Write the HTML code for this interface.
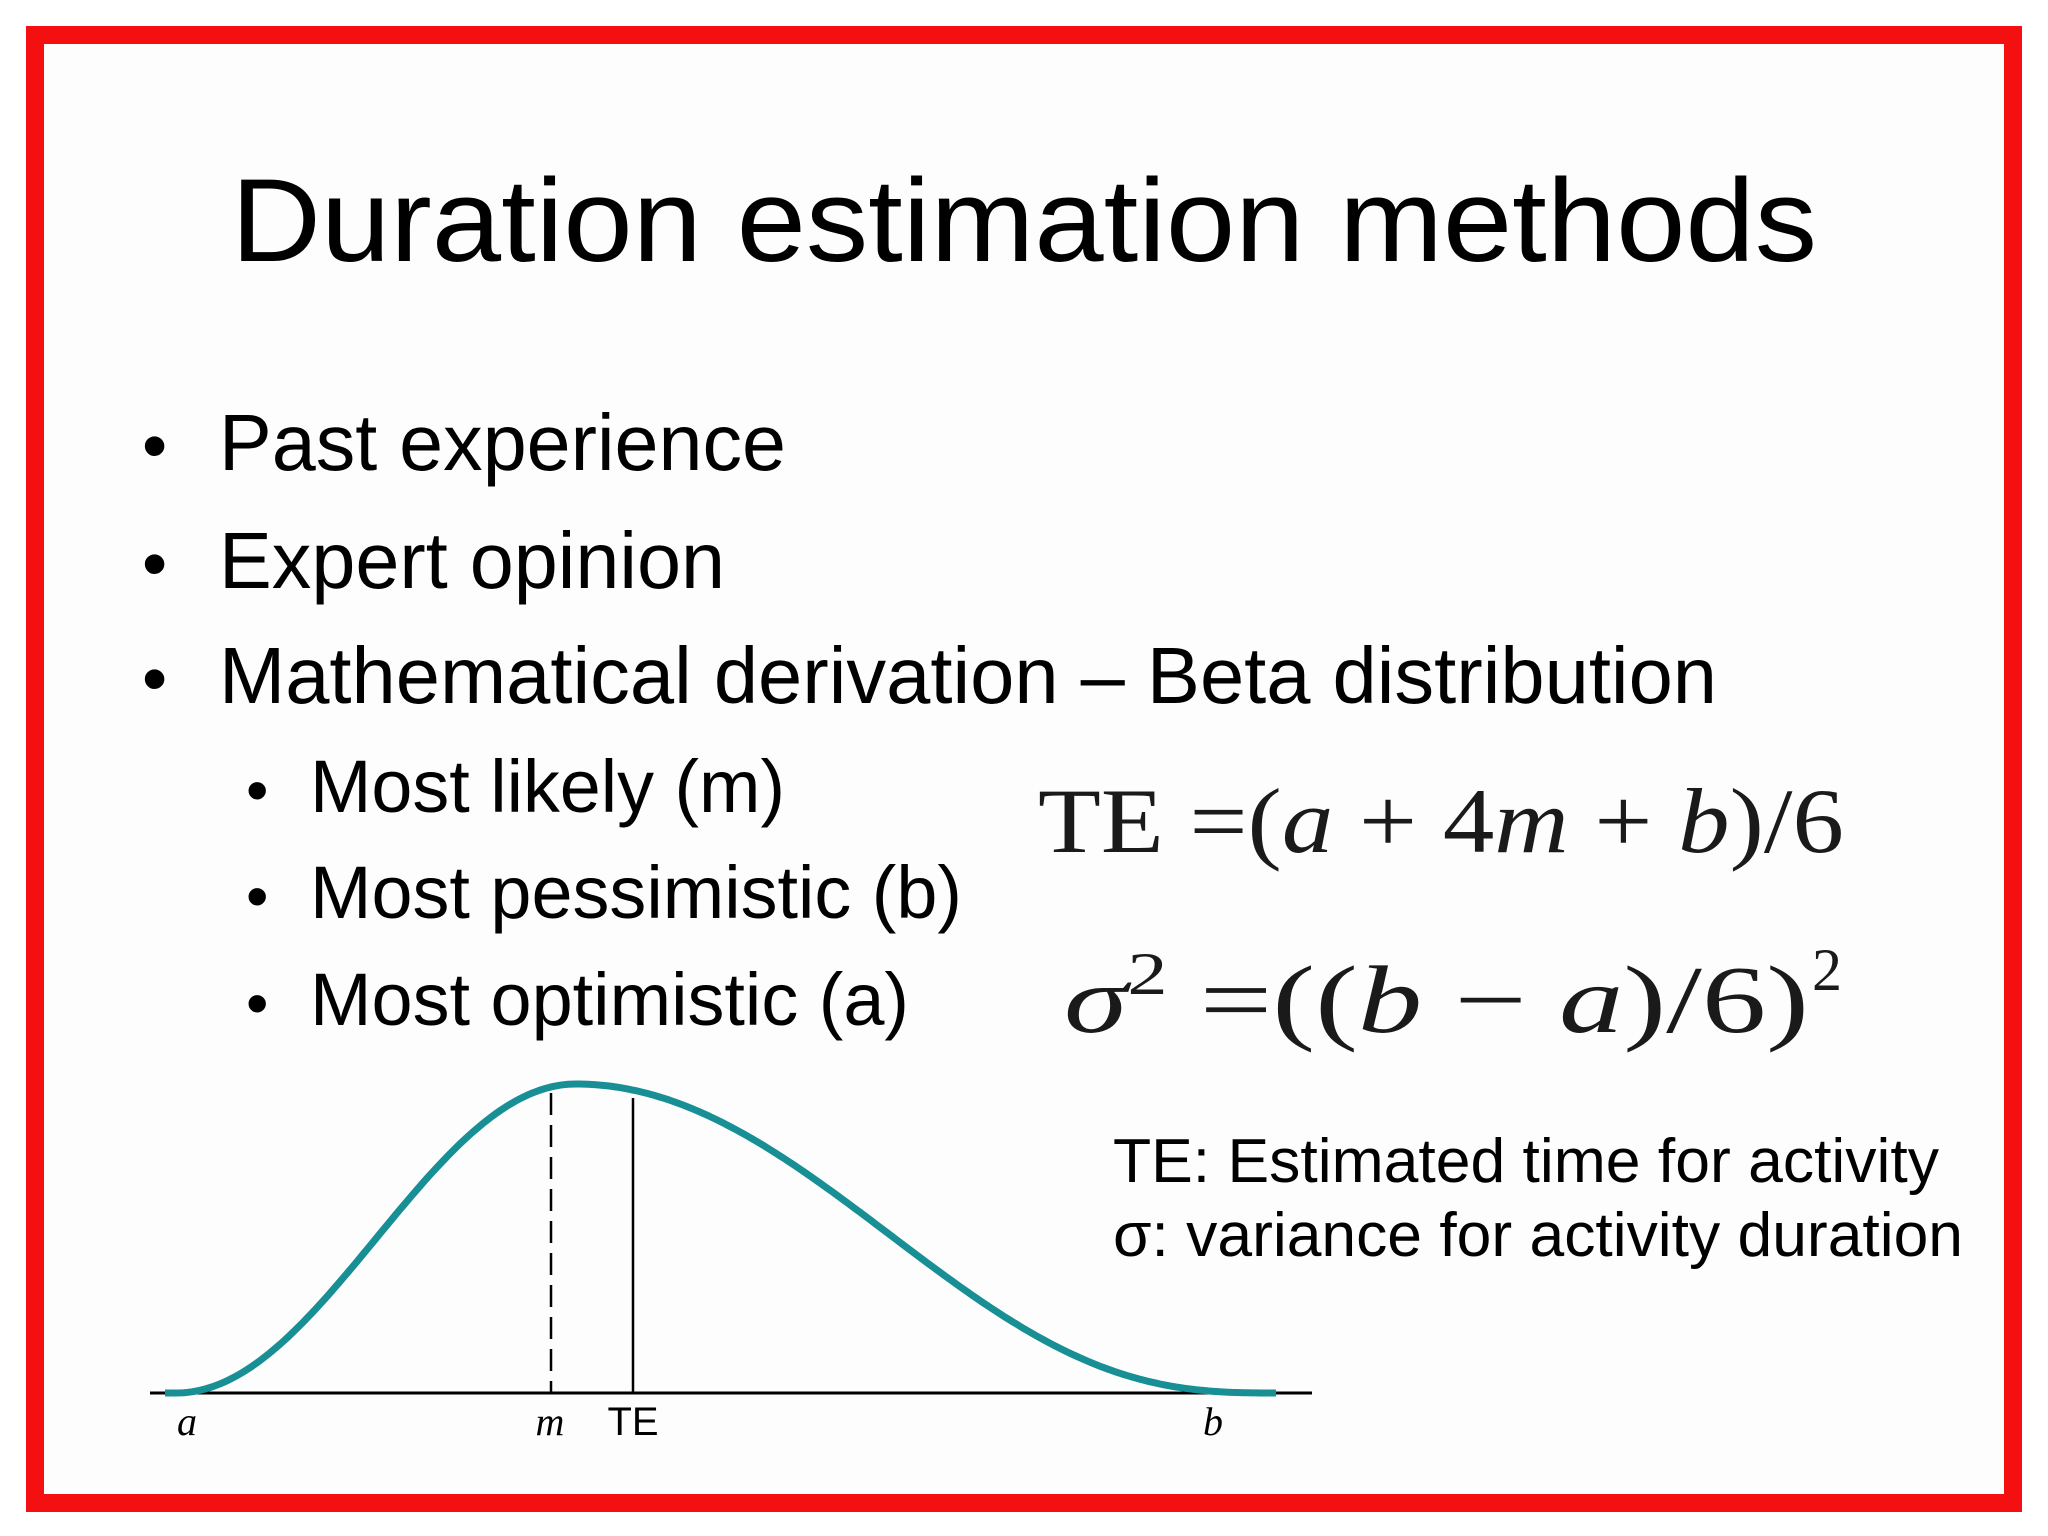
<!DOCTYPE html>
<html><head><meta charset="utf-8"><style>html,body{margin:0;padding:0;background:#fff}svg{display:block}</style></head>
<body>
<svg width="2048" height="1536" viewBox="0 0 2048 1536" xmlns="http://www.w3.org/2000/svg">
<rect x="0" y="0" width="2048" height="1536" fill="#fff"/>
<rect x="35" y="35" width="1978" height="1468" fill="#fdfdfd" stroke="#f41010" stroke-width="18"/>
<g font-family="Liberation Sans, Arial, sans-serif" fill="#000">
<text x="1024" y="261" font-size="118" text-anchor="middle" textLength="1586" lengthAdjust="spacingAndGlyphs">Duration estimation methods</text>
<text x="142" y="470" font-size="72">•</text>
<text x="219" y="470" font-size="80" textLength="567" lengthAdjust="spacingAndGlyphs">Past experience</text>
<text x="142" y="588" font-size="72">•</text>
<text x="219" y="588" font-size="80" textLength="506" lengthAdjust="spacingAndGlyphs">Expert opinion</text>
<text x="142" y="703" font-size="72">•</text>
<text x="219" y="703" font-size="80" textLength="1498" lengthAdjust="spacingAndGlyphs">Mathematical derivation – Beta distribution</text>
<text x="246" y="812" font-size="64">•</text>
<text x="310" y="812" font-size="74" textLength="475" lengthAdjust="spacingAndGlyphs">Most likely (m)</text>
<text x="246" y="918" font-size="64">•</text>
<text x="310" y="918" font-size="74" textLength="652" lengthAdjust="spacingAndGlyphs">Most pessimistic (b)</text>
<text x="246" y="1025" font-size="64">•</text>
<text x="310" y="1025" font-size="74" textLength="599" lengthAdjust="spacingAndGlyphs">Most optimistic (a)</text>
<text x="1113" y="1182" font-size="62" textLength="826" lengthAdjust="spacingAndGlyphs">TE: Estimated time for activity</text>
<text x="1113" y="1256" font-size="62" textLength="850" lengthAdjust="spacingAndGlyphs">σ: variance for activity duration</text>
</g>
<g font-family="Liberation Serif, Times New Roman, serif" fill="#1a1a1a">
<text x="1038" y="852" font-size="92" textLength="806" lengthAdjust="spacingAndGlyphs">TE =(<tspan font-style="italic">a</tspan> + 4<tspan font-style="italic">m</tspan> + <tspan font-style="italic">b</tspan>)/6</text>
<text x="1064" y="1032" font-size="96" textLength="745" lengthAdjust="spacingAndGlyphs"><tspan font-style="italic">σ</tspan><tspan dy="-38" font-size="60">2</tspan><tspan dy="38"> =((</tspan><tspan font-style="italic">b</tspan> − <tspan font-style="italic">a</tspan>)/6)</text>
<text x="1812" y="990" font-size="60">2</text>
</g>
<line x1="150" y1="1393" x2="1312" y2="1393" stroke="#000" stroke-width="3"/>
<line x1="551" y1="1093" x2="551" y2="1393" stroke="#000" stroke-width="2.5" stroke-dasharray="22,10"/>
<line x1="633" y1="1098" x2="633" y2="1393" stroke="#000" stroke-width="2.5"/>
<path id="curve" fill="none" stroke="#178f95" stroke-width="7" d=""/>
<g font-family="Liberation Serif, serif" font-style="italic" font-size="40" fill="#000" text-anchor="middle">
<text x="187" y="1435">a</text><text x="550" y="1435">m</text><text x="1213" y="1435">b</text>
</g>
<text x="633" y="1435" font-family="Liberation Sans, sans-serif" font-size="40" text-anchor="middle">TE</text>
</svg>
<script>
(function(){
var pk=576,base=1393,h=309,xl=176,xr=1278,kr=3.0;
var d="M165 "+base;
for(var x=xl;x<=xr;x+=4){
  var v;
  if(x<pk){var u=(pk-x)/(pk-xl);var c=Math.cos(Math.PI*u/2);v=c*c;}
  else{var u=(x-pk)/(xr-pk);v=Math.pow(Math.max(0,1-u*u),kr);}
  d+="L"+x+" "+(base-h*v).toFixed(1);
}
document.getElementById("curve").setAttribute("d",d);
})();
</script>
</body></html>
